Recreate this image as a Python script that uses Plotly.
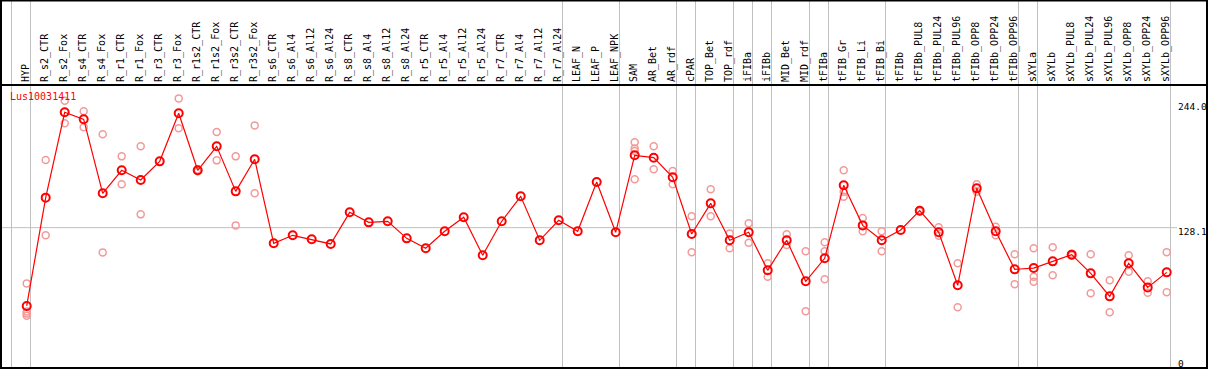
import plotly.graph_objects as go

categories = ["HYP", "R_s2_CTR", "R_s2_Fox", "R_s4_CTR", "R_s4_Fox", "R_r1_CTR", "R_r1_Fox",
              "R_r3_CTR", "R_r3_Fox", "R_r1s2_CTR", "R_r1s2_Fox", "R_r3s2_CTR", "R_r3s2_Fox",
              "R_s6_CTR", "R_s6_Al4", "R_s6_Al12", "R_s6_Al24", "R_s8_CTR", "R_s8_Al4", "R_s8_Al12",
              "R_s8_Al24", "R_r5_CTR", "R_r5_Al4", "R_r5_Al12", "R_r5_Al24", "R_r7_CTR", "R_r7_Al4",
              "R_r7_Al12", "R_r7_Al24", "LEAF_N", "LEAF_P", "LEAF_NPK", "SAM", "AR_Bet", "AR_rdf",
              "cPAR", "TOP_Bet", "TOP_rdf", "iFIBa", "iFIBb", "MID_Bet", "MID_rdf", "tFIBa",
              "tFIB_Gr", "tFIB_Li", "tFIB_Bi", "tFIBb", "tFIBb_PUL8", "tFIBb_PUL24", "tFIBb_PUL96",
              "tFIBb_OPP8", "tFIBb_OPP24", "tFIBb_OPP96", "sXYLa", "sXYLb", "sXYLb_PUL8",
              "sXYLb_PUL24", "sXYLb_PUL96", "sXYLb_OPP8", "sXYLb_OPP24", "sXYLb_OPP96"]

mean_values = [55.6, 155.9, 234.9, 228.4, 159.9, 181.2, 172.2, 189.5, 234.0, 181.2, 203.4, 161.7,
               191.4, 113.6, 121.0, 117.3, 113.0, 142.3, 133.0, 134.0, 118.2, 109.0, 124.7, 137.7,
               102.5, 134.0, 157.1, 116.4, 134.9, 124.7, 170.4, 123.8, 195.1, 192.9, 174.7, 122.2,
               150.6, 116.4, 123.8, 88.6, 116.4, 78.4, 99.7, 167.3, 130.2, 116.4, 125.9, 143.8,
               123.8, 74.7, 164.5, 124.7, 89.5, 90.7, 96.9, 103.1, 85.8, 64.5, 95.1, 72.8, 86.7]

replicate_values = [
    [76.5, 50.5, 48.5, 46.5], [190.7, 121.0], [245.7, 224.7], [235.8, 221.0], [214.5, 105.2],
    [194.1, 168.2], [203.4, 140.4], [], [247.8, 220.1], [182.0, 180.4], [216.7, 190.4],
    [194.1, 130.2], [222.8, 159.9],
    [], [], [], [], [], [], [], [], [], [], [], [], [], [], [], [], [], [], [],
    [207.1, 201.5, 199.0, 172.9], [203.4, 182.1], [180.6, 168.2], [138.6, 105.3],
    [163.6, 138.6], [122.8, 109.0], [132.1, 114.2], [95.1, 82.7], [121.9, 112.0],
    [106.2, 50.6], [114.5, 106.2, 80.3], [181.2, 161.4, 156.8], [137.0, 124.7],
    [124.7, 106.2], [], [144.5, 143.0], [128.4, 120.7], [95.1, 54.3], [168.2, 161.4],
    [129.0, 121.0], [103.4, 75.6], [109.0, 82.7, 78.1], [109.9, 84.0], [104.0, 102.2],
    [103.4, 67.3], [79.3, 49.7], [102.5, 87.3], [78.4, 67.9], [105.3, 68.2]]

group_breaks = [-1, 0, 28, 31, 34, 35, 37, 38, 39, 41, 42, 45, 52, 53, 60]
y_labels = [("244.0", 244.0), ("128.1", 128.1), ("0", 0.0)]
gene_name = "Lus10031411"

W, H = 1209, 370
ML, MR, MT, MB = 1, 2, 85, 2
PW, PH = W - ML - MR, H - MT - MB


def px(q):
    return (q - ML) / PW


def py(p):
    return (H - MB - p) / PH


xs = list(range(len(categories)))
rep_x, rep_y = [], []
for i, reps in enumerate(replicate_values):
    for v in reps:
        rep_x.append(i)
        rep_y.append(v)

fig = go.Figure()
fig.add_trace(go.Scatter(
    x=rep_x, y=rep_y, mode="markers",
    marker=dict(symbol="circle-open", size=7, color="#f29a9a", line=dict(width=1.5, color="#f29a9a")),
    hoverinfo="y", showlegend=False))
fig.add_trace(go.Scatter(
    x=xs, y=mean_values, mode="lines+markers",
    line=dict(color="#ff0000", width=1.2),
    marker=dict(symbol="circle-open", size=8, color="#ff0000", line=dict(width=2, color="#ff0000")),
    hoverinfo="y", showlegend=False))

shapes = []
for b in group_breaks:
    shapes.append(dict(type="line", xref="x", yref="paper", x0=b + 0.2, x1=b + 0.2,
                       y0=0, y1=py(0), line=dict(color="#c0c0c0", width=1), layer="below"))
shapes.append(dict(type="line", xref="paper", yref="y", x0=0, x1=px(1177), y0=128.1, y1=128.1,
                   line=dict(color="#c0c0c0", width=1), layer="below"))
shapes.append(dict(type="rect", xref="paper", yref="paper", x0=px(1), x1=px(1207),
                   y0=py(368), y1=py(0.5), line=dict(color="black", width=2)))
shapes.append(dict(type="line", xref="paper", yref="paper", x0=px(1), x1=px(1207),
                   y0=py(85), y1=py(85), line=dict(color="black", width=2)))

annotations = [dict(text=gene_name, xref="paper", yref="paper", x=px(8), y=py(97),
                    xanchor="left", yanchor="middle", showarrow=False,
                    font=dict(family="DejaVu Sans Mono", size=10, color="#ff0000"))]
for txt, v in y_labels:
    annotations.append(dict(text=txt, xref="paper", yref="y", x=px(1176), y=v,
                            xanchor="left", yanchor="middle", showarrow=False,
                            yshift=(3 if v == 0 else -4),
                            font=dict(family="DejaVu Sans Mono", size=9.5, color="black")))

x0_val = (ML - 26.7) / 19.0
x1_val = (W - MR - 26.7) / 19.0
y_scale = 1.08
y0_val = (366 - (H - MB)) / y_scale
y1_val = (366 - MT) / y_scale

fig.update_layout(
    width=W, height=H,
    margin=dict(l=ML, r=MR, t=MT, b=MB),
    paper_bgcolor="white", plot_bgcolor="white",
    showlegend=False,
    shapes=shapes, annotations=annotations,
    xaxis=dict(range=[x0_val, x1_val], side="top", tickmode="array", tickvals=xs,
               ticktext=categories, tickangle=-90, ticklen=0, showgrid=False, zeroline=False,
               showline=False, ticklabelshift=-1, ticklabelstandoff=2,
               tickfont=dict(family="DejaVu Sans Mono", size=10, color="black")),
    yaxis=dict(range=[y0_val, y1_val], showticklabels=False, showgrid=False, zeroline=False,
               showline=False, ticklen=0),
)

fig.write_html("out.html", config={"displayModeBar": False},
               post_script="document.body.style.margin='0';document.body.style.overflow='hidden';")
